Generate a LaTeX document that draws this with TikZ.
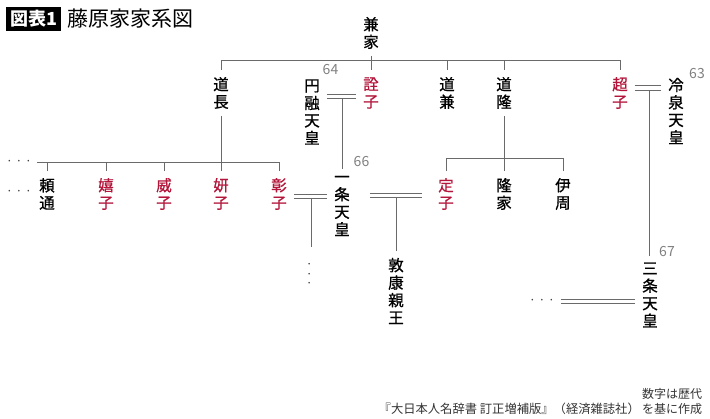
\documentclass[tikz,border=0pt]{standalone}
\usepackage{fontspec}
\setmainfont{Noto Sans CJK JP}
\newfontfamily\namefont[FakeBold=0.9]{Noto Sans CJK JP}
\usepackage{tikz}
\definecolor{wifered}{HTML}{B3163A}
\definecolor{linegray}{HTML}{6A6A6A}

\begin{document}
\begin{tikzpicture}
[
    x = 1pt, y = -1pt,
    person/.style = {align = center, inner sep = 0pt, outer sep = 7pt, font = \namefont\fontsize{15.5}{17.5}\selectfont},
    wife/.style = {person, text = wifered},
    reign/.style = {inner sep = 0pt, text = black!50, font = \fontsize{14}{14}\selectfont},
    dots/.style = {inner sep = 0pt, text = black!75, font = \fontsize{12}{12}\selectfont},
    famline/.style = {draw = linegray, line width = 0.9pt},
    wed/.style = {famline, double = white, double distance = 3.6pt},
]
    \useasboundingbox (0,0) rectangle (710,419);

    \node[fill = black, text = white, inner sep = 0pt, minimum width = 55pt, minimum height = 24pt,
          font = \fontsize{18}{18}\selectfont\bfseries] (tag) at (33.5,19) {図表1};
    \node[anchor = west, inner sep = 0pt, font = \fontsize{21}{21}\selectfont] (title) at (67,18.5) {藤原家家系図};

    \node[person] (kaneie) at (371,33) {兼\\家};
    \node[person] (michinaga) at (221,93) {道\\長};
    \node[wife] (senshi) at (371,93) {詮\\子};
    \node[person] (michikane) at (447,93) {道\\兼};
    \node[person] (michitaka) at (504,93) {道\\隆};
    \node[wife] (choshi) at (620,93) {超\\子};
    \node[person] (enyu) at (312,112) {円\\融\\天\\皇};
    \node[person] (reizei) at (676,111) {冷\\泉\\天\\皇};
    \node[person] (yorimichi) at (47,194) {頼\\通};
    \node[wife] (kishi) at (106,194) {嬉\\子};
    \node[wife] (ishi) at (164,194) {威\\子};
    \node[wife] (kenshi) at (221,194) {妍\\子};
    \node[wife] (shoshi) at (279,194) {彰\\子};
    \node[wife] (teishi) at (446,194) {定\\子};
    \node[person] (takaie) at (504,194) {隆\\家};
    \node[person] (korechika) at (563,194) {伊\\周};
    \node[person] (ichijo) at (342,206) {一\\条\\天\\皇};
    \node[person] (atsuyasu) at (396,291) {敦\\康\\親\\王};
    \node[person] (sanjo) at (650,295) {三\\条\\天\\皇};

    \node[reign] (n64) at (330.5,70) {64};
    \node[reign] (n63) at (697,74) {63};
    \node[reign] (n66) at (361.5,161.5) {66};
    \node[reign] (n67) at (667,252) {67};

    \node[dots] (more1) at (19,163) {· · ·};
    \node[dots] (more2) at (19,193) {· · ·};
    \node[dots, rotate = 90] (more3) at (311,274) {· · ·};
    \node[dots, outer sep = 6pt] (more4) at (542,302) {· · ·};

    \coordinate (topbar) at (0,60);
    \coordinate (lowbar) at (37,162);
    \coordinate (takabar) at (0,158);
    \coordinate (w1) at (342,96.5);
    \coordinate (w2) at (649,88);
    \coordinate (w3) at (311,196.5);
    \coordinate (w3end) at (311,247);
    \coordinate (w4) at (396,195.5);
    \coordinate (w5) at (0,301.5);

    \draw[famline] (kaneie) -- (senshi);
    \draw[famline] (michinaga.north) -- (michinaga.north |- topbar) -| (choshi.north);
    \draw[famline] (michikane.north) -- (michikane.north |- topbar);
    \draw[famline] (michitaka.north) -- (michitaka.north |- topbar);

    \draw[famline] (michinaga.south) -- (michinaga.south |- lowbar);
    \draw[famline] (lowbar) -| (shoshi.north);
    \foreach \child in {yorimichi, kishi, ishi, kenshi}
        \draw[famline] (\child.north) -- (\child.north |- lowbar);

    \draw[famline] (michitaka.south) -- (michitaka.south |- takabar);
    \draw[famline] (teishi.north) |- (korechika.north |- takabar) -- (korechika.north);
    \draw[famline] (takaie.north) -- (takaie.north |- takabar);

    \draw[wed] (enyu.east |- w1) -- (senshi.west |- w1);
    \draw[famline] ([yshift = -2.25pt]w1) -- (ichijo.north);
    \draw[wed] (choshi.east |- w2) -- (reizei.west |- w2);
    \draw[famline] ([yshift = -2.25pt]w2) -- (w2 |- sanjo.north);
    \draw[wed] (shoshi.east |- w3) -- (ichijo.west |- w3);
    \draw[famline] ([yshift = -2.25pt]w3) -- (w3end);
    \draw[wed, shorten < = 13pt, shorten > = 9pt] (ichijo.east |- w4) -- (teishi.west |- w4);
    \draw[famline] ([yshift = -2.25pt]w4) -- (atsuyasu.north);
    \draw[wed] (more4.east |- w5) -- (sanjo.west |- w5);

    \node[anchor = north west, align = left, inner sep = 0pt, text = black!80,
          font = \fontsize{12}{15}\selectfont] (note) at (642,388) {数字は歴代\\を基に作成};
    \node[anchor = east, inner sep = 0pt, text = black!80,
          font = \fontsize{12.3}{15}\selectfont] (source) at (640,409) {『大日本人名辞書 訂正増補版』（経済雑誌社）};
\end{tikzpicture}
\end{document}
